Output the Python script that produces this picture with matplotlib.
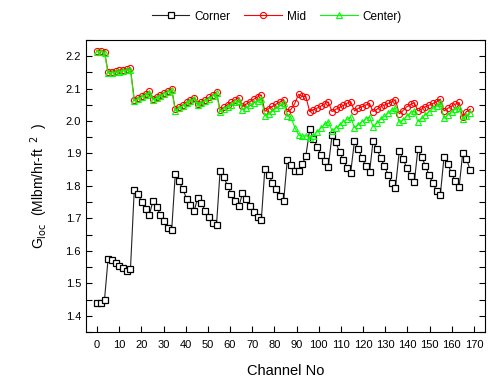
import matplotlib
matplotlib.use("Agg")
import matplotlib.pyplot as plt

plt.rcParams['font.family'] = ['Liberation Sans', 'DejaVu Sans']

# channel positions of the plotted points
channel = [0.0, 1.7, 3.4, 5.0, 6.7, 8.4, 10.1, 11.8, 13.5, 15.1,
           16.8, 18.5, 20.2, 21.9, 23.6, 25.2, 26.9, 28.6, 30.3, 32.0,
           33.7, 35.3, 37.0, 38.7, 40.4, 42.1, 43.8, 45.4, 47.1, 48.8,
           50.5, 52.2, 53.9, 55.5, 57.2, 58.9, 60.6, 62.3, 64.0, 65.6,
           67.3, 69.0, 70.7, 72.4, 74.1, 75.7, 77.4, 79.1, 80.8, 82.5,
           84.2, 85.8, 87.5, 89.2, 90.9, 92.6, 94.2, 95.9, 97.6, 99.3,
           101.0, 102.7, 104.3, 106.0, 107.7, 109.4, 111.1, 112.8, 114.4, 116.1,
           117.8, 119.5, 121.2, 122.9, 124.5, 126.2, 127.9, 129.6, 131.3, 133.0,
           134.6, 136.3, 138.0, 139.7, 141.4, 143.1, 144.7, 146.4, 148.1, 149.8,
           151.5, 153.2, 154.8, 156.5, 158.2, 159.9, 161.6, 163.3, 164.9, 166.6,
           168.3]

corner = [1.441, 1.441, 1.450, 1.575, 1.572, 1.564, 1.552, 1.546, 1.539, 1.544,
          1.786, 1.775, 1.751, 1.728, 1.710, 1.753, 1.734, 1.712, 1.692, 1.672,
          1.665, 1.836, 1.815, 1.790, 1.761, 1.741, 1.722, 1.764, 1.746, 1.724,
          1.705, 1.686, 1.679, 1.845, 1.827, 1.800, 1.776, 1.753, 1.737, 1.777,
          1.759, 1.738, 1.720, 1.705, 1.695, 1.853, 1.835, 1.810, 1.791, 1.770,
          1.755, 1.880, 1.864, 1.847, 1.846, 1.867, 1.893, 1.974, 1.946, 1.921,
          1.896, 1.878, 1.859, 1.957, 1.934, 1.904, 1.880, 1.856, 1.841, 1.938,
          1.915, 1.886, 1.861, 1.842, 1.939, 1.913, 1.887, 1.861, 1.835, 1.810,
          1.795, 1.907, 1.884, 1.855, 1.830, 1.811, 1.914, 1.889, 1.862, 1.833,
          1.808, 1.785, 1.771, 1.889, 1.867, 1.839, 1.814, 1.796, 1.900, 1.884,
          1.848]

mid = [2.217, 2.217, 2.214, 2.151, 2.152, 2.154, 2.156, 2.158, 2.161, 2.162,
       2.066, 2.071, 2.077, 2.084, 2.091, 2.069, 2.074, 2.080, 2.087, 2.093,
       2.099, 2.036, 2.043, 2.050, 2.058, 2.065, 2.072, 2.052, 2.058, 2.065,
       2.073, 2.081, 2.089, 2.034, 2.042, 2.050, 2.058, 2.066, 2.072, 2.045,
       2.052, 2.060, 2.067, 2.074, 2.080, 2.030, 2.038, 2.045, 2.052, 2.059,
       2.066, 2.028, 2.036, 2.054, 2.082, 2.076, 2.075, 2.029, 2.035, 2.040,
       2.046, 2.053, 2.059, 2.029, 2.036, 2.042, 2.048, 2.055, 2.060, 2.031,
       2.039, 2.044, 2.049, 2.054, 2.029, 2.036, 2.044, 2.049, 2.054, 2.059,
       2.065, 2.022, 2.032, 2.044, 2.051, 2.056, 2.031, 2.037, 2.044, 2.049,
       2.054, 2.059, 2.067, 2.031, 2.039, 2.046, 2.052, 2.057, 2.013, 2.029,
       2.036]

center = [2.213, 2.213, 2.210, 2.147, 2.148, 2.150, 2.152, 2.154, 2.157, 2.157,
          2.062, 2.067, 2.073, 2.080, 2.087, 2.065, 2.070, 2.076, 2.083, 2.089,
          2.095, 2.032, 2.039, 2.046, 2.054, 2.061, 2.068, 2.048, 2.054, 2.061,
          2.069, 2.077, 2.085, 2.029, 2.036, 2.044, 2.049, 2.057, 2.062, 2.035,
          2.041, 2.048, 2.055, 2.062, 2.068, 2.015, 2.022, 2.031, 2.039, 2.048,
          2.054, 2.015, 2.012, 1.980, 1.957, 1.953, 1.955, 1.948, 1.955, 1.967,
          1.978, 1.990, 1.998, 1.970, 1.978, 1.988, 1.998, 2.005, 2.012, 1.980,
          1.988, 1.998, 2.006, 2.013, 1.983, 1.993, 2.006, 2.014, 2.024, 2.033,
          2.039, 1.996, 2.003, 2.015, 2.026, 2.031, 1.998, 2.008, 2.019, 2.029,
          2.039, 2.047, 2.054, 2.008, 2.019, 2.029, 2.036, 2.039, 2.006, 2.015,
          2.026]

fig = plt.figure(figsize=(4.88, 3.83), dpi=100)
ax = fig.add_axes([0.176, 0.133, 0.818, 0.763])

ax.plot(channel, corner, color='#222222', lw=0.8, marker='s', ms=4.2,
        mfc='white', mec='black', mew=0.9, label='Corner')
ax.plot(channel, mid, color='red', lw=0.8, marker='o', ms=4.4,
        mfc='none', mec='red', mew=0.8, label='Mid')
ax.plot(channel, center, color='#00ff00', lw=0.8, marker='^', ms=4.6,
        mfc='none', mec='#00ff00', mew=0.8, label='Center)')

ax.set_xlim(-5, 175)
ax.set_ylim(1.35, 2.25)
ax.set_xticks(range(0, 171, 10))
ax.set_yticks([1.4, 1.5, 1.6, 1.7, 1.8, 1.9, 2.0, 2.1, 2.2])
ax.set_yticks([1.35 + 0.1 * k for k in range(10)], minor=True)
ax.yaxis.set_major_formatter(matplotlib.ticker.FormatStrFormatter('%.1f'))
ax.tick_params(axis='both', which='both', direction='in', labelsize=8,
               length=4, width=0.8, right=True, top=False)
ax.tick_params(axis='x', pad=6)
for s in ax.spines.values():
    s.set_linewidth(0.8)

ax.set_xlabel('Channel No', fontsize=10.5, labelpad=10)
ax.set_ylabel(r'G$_{\mathrm{loc}}$  (Mlbm/hr-ft$^{\ \ 2}$  )', fontsize=10, labelpad=11)

fig.legend(loc='upper center', bbox_to_anchor=(0.567, 1.0), ncol=3, frameon=False,
           fontsize=8.5, handlelength=3.2, columnspacing=1.2, handletextpad=0.4)

fig.savefig('out.png', dpi=100)
